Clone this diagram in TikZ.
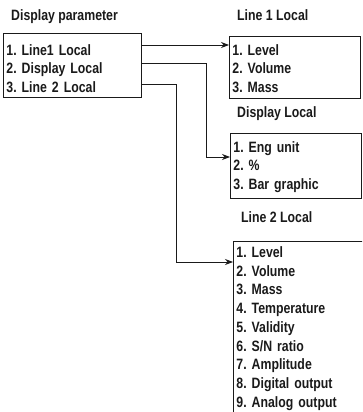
\documentclass[tikz,border=0pt]{standalone}
\usepackage{fontspec}
\newfontfamily\narrowfont{Liberation Sans}[FakeStretch=0.82]
\usetikzlibrary{arrows.meta}
\definecolor{MenuInk}{HTML}{1A1A1A}
\tikzset{menubox/.style={draw=MenuInk,line width=0.9pt,align=left,anchor=north west,inner xsep=3pt,inner ysep=0pt,text=MenuInk,font=\narrowfont\bfseries\frenchspacing\fontsize{15}{18.5}\selectfont},pad/.style 2 args={execute at begin node={\rule{0pt}{#1}},execute at end node={\rule[-#2]{0pt}{#2}}},title/.style={anchor=base west,inner sep=0pt,text=MenuInk,font=\narrowfont\bfseries\fontsize{15}{18.5}\selectfont},arr/.style={-{Stealth[length=8pt,width=6pt]},line width=0.8pt,MenuInk}}

\begin{document}
\begin{tikzpicture}[x=1pt,y=-1pt]
\path[use as bounding box] (0,0) rectangle (362,412);
\clip (0,0) rectangle (362,412);
\node[title] (paramtitle) at (11,21) {Display parameter};
\node[menubox,text width=132pt,pad={22pt}{5pt}] (param) at (3,33) {1. Line1 Local\\2. Display Local\\3. Line 2 Local};
\node[title] (onetitle) at (237,21) {Line 1 Local};
\node[menubox,text width=125pt,pad={19pt}{6pt}] (lineone) at (229,36) {1. Level\\2. Volume\\3. Mass};
\node[title] (disptitle) at (237,117) {Display Local};
\node[menubox,text width=125pt,pad={19pt}{9pt}] (displocal) at (230,133) {1. Eng unit\\2. \%\\3. Bar graphic};
\node[title] (twotitle) at (241,222) {Line 2 Local};
\node[menubox,text width=134pt,pad={16pt}{20pt},font=\narrowfont\bfseries\frenchspacing\fontsize{15}{18.75}\selectfont] (linetwo) at (233,241) {1. Level\\2. Volume\\3. Mass\\4. Temperature\\5. Validity\\6. S/N ratio\\7. Amplitude\\8. Digital output\\9. Analog output};
\draw[arr] (param.east |- 0,45) -- (lineone.west |- 0,45);
\draw[arr] (param.east |- 0,63) -- (206,63) |- (displocal.west |- 0,157);
\draw[arr] (param.east |- 0,84) -- (176,84) |- (linetwo.west |- 0,262);
\end{tikzpicture}
\end{document}
